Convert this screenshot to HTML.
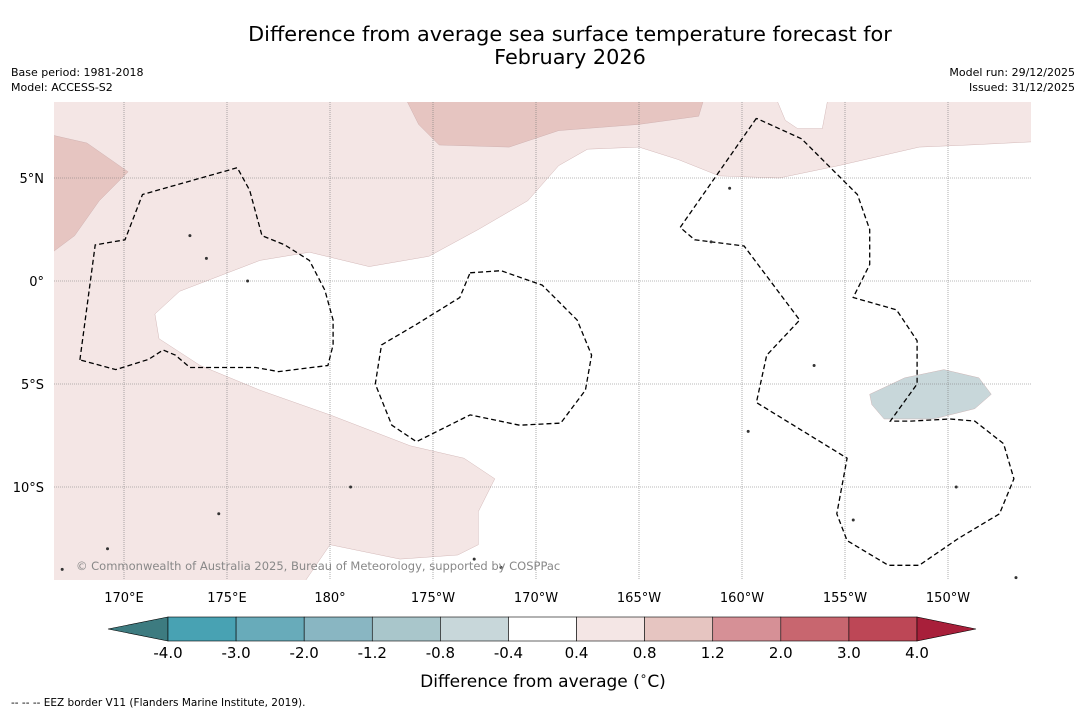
<!DOCTYPE html>
<html><head><meta charset="utf-8"><style>
body{margin:0;background:#fff;font-family:"DejaVu Sans","Liberation Sans",sans-serif;}
#wrap{position:relative;width:1085px;height:713px;overflow:hidden;}
</style></head><body>
<div id="wrap">
<svg id="svg" width="1085" height="713" xmlns="http://www.w3.org/2000/svg" font-family="DejaVu Sans, Liberation Sans, sans-serif">
<text x="570" y="41" font-size="20.8" text-anchor="middle" fill="#000">Difference from average sea surface temperature forecast for</text>
<text x="570" y="64" font-size="20.8" text-anchor="middle" fill="#000">February 2026</text>
<text x="11" y="76" font-size="11">Base period: 1981-2018</text>
<text x="11" y="91" font-size="11">Model: ACCESS-S2</text>
<text x="1075" y="76" font-size="11" text-anchor="end">Model run: 29/12/2025</text>
<text x="1075" y="91" font-size="11" text-anchor="end">Issued: 31/12/2025</text>
<defs><clipPath id="mc"><rect x="54" y="102" width="977" height="478"/></clipPath></defs>
<g id="map" clip-path="url(#mc)"></g>
<g id="axes"></g>
<g id="cbar"></g>
<text x="543" y="687" font-size="17" text-anchor="middle">Difference from average (<tspan font-size="12" dy="-7">∘</tspan><tspan dy="7">C)</tspan></text>
<text x="11" y="706" font-size="10.5">--  --  -- EEZ border V11 (Flanders Marine Institute, 2019).</text>
</svg>
</div>
<script>
const lonTicks=[170,175,180,185,190,195,200,205,210];
const lonLabels=["170°E","175°E","180°","175°W","170°W","165°W","160°W","155°W","150°W"];
const latTicks=[5,0,-5,-10];
const latLabels=["5°N","0°","5°S","10°S"];
const cbBounds=["-4.0","-3.0","-2.0","-1.2","-0.8","-0.4","0.4","0.8","1.2","2.0","3.0","4.0"];
const cbColors=["#48a2b3","#68abba","#89b6c2","#a9c6cb","#c8d7da","#ffffff","#f4e6e5","#e6c5c1","#d69096","#c8666f","#bd4756"];
const cbLow="#3d7b80", cbHigh="#a81f3a";
const pinkRegion=[[166,9],[215,9],[215,6.8],[211,6.6],[208.6,6.5],[204.7,5.6],[201.8,5.0],[198.9,5.1],[196.9,5.9],[195,6.5],[192.5,6.4],[191.1,5.6],[189.6,3.9],[187.2,2.5],[184.8,1.2],[181.9,0.7],[179,1.4],[176.6,1],[172.7,-0.5],[171.5,-1.6],[171.7,-2.8],[173.7,-4.1],[176.6,-5.3],[180,-6.5],[183.9,-8],[186.5,-8.6],[188,-9.6],[187.2,-11.2],[187.2,-12.8],[186.2,-13.3],[183.4,-13.5],[180,-12.8],[178.5,-15],[166,-15]];
const roseTop=[[183.6,9],[198.2,9],[197.9,8],[195,7.6],[191.1,7.3],[188.7,6.5],[185.3,6.6],[184.3,7.6]];
const roseLeft=[[166,7.2],[168.2,6.7],[170.2,5.3],[168.8,3.9],[167.6,2.2],[166,1]];
const whiteTop=[[201.6,9],[204.2,9],[203.9,7.4],[202.7,7.4],[202.1,7.8]];
const blueBlob=[[206.2,-5.5],[207.9,-4.7],[209.8,-4.3],[211.5,-4.7],[212.1,-5.5],[211.3,-6.2],[209.3,-6.7],[206.9,-6.7],[206.3,-6]];
const eezA=[[167.86,-3.83],[168.6,1.75],[170.05,2],[170.9,4.2],[175.5,5.5],[176.1,4.4],[176.7,2.2],[177.8,1.75],[179,1],[179.75,-0.45],[180.15,-1.9],[180.15,-3.1],[179.9,-4.1],[177.5,-4.4],[176.4,-4.2],[173.2,-4.2],[172.5,-3.6],[171.9,-3.35],[171.2,-3.8],[169.6,-4.3],[167.86,-3.83]];
const eezB=[[186.8,0.4],[188.3,0.5],[190.3,-0.2],[192,-1.9],[192.7,-3.6],[192.4,-5.3],[191.2,-6.9],[189.2,-7],[186.8,-6.5],[184.2,-7.8],[183,-7],[182.2,-5],[182.5,-3.1],[184.2,-2.1],[186.3,-0.8],[186.8,0.4]];
const eezC=[[200.7,7.9],[197,2.6],[197.7,2],[200.1,1.7],[202.8,-1.9],[201.2,-3.6],[200.7,-5.9],[205.1,-8.6],[204.6,-11.3],[205.1,-12.6],[207.1,-13.8],[208.6,-13.8],[210.5,-12.5],[212.5,-11.3],[213.2,-9.6],[212.7,-7.9],[211.3,-6.8],[210.1,-6.7],[208.2,-6.8],[207.2,-6.8],[208.5,-5],[208.5,-2.9],[207.5,-1.4],[205.4,-0.8],[206.2,0.8],[206.2,2.5],[205.6,4.2],[204.4,5.4],[202.9,6.9],[200.7,7.9]];
const islands=[[173.2,2.2],[174,1.1],[176,0],[181,-10],[187,-13.5],[188.3,-13.9],[166.3,-11.7],[167,-14],[169.2,-13],[203.5,-4.1],[213.3,-14.4],[199.4,4.5],[198.5,1.9],[210.4,-10],[205.4,-11.6],[200.3,-7.3],[174.6,-11.3]];
const X=l=>124+(l-170)*20.6, Y=a=>281-a*20.6;
const NS="http://www.w3.org/2000/svg";
function mk(t,a,p){const e=document.createElementNS(NS,t);for(const k in a)e.setAttribute(k,a[k]);p.appendChild(e);return e;}
const pts=arr=>arr.map(p=>X(p[0]).toFixed(1)+","+Y(p[1]).toFixed(1)).join(" ");
const map=document.getElementById("map");
let e;
e=mk("rect",{x:54,y:102,width:977,height:478,fill:"#fff"},map);


const regions=[[pinkRegion,"#f4e6e5","anomaly-0.4-0.8"],[roseTop,"#e6c5c1","anomaly-0.8-1.2-north"],[roseLeft,"#e6c5c1","anomaly-0.8-1.2-west"],[whiteTop,"#fff","anomaly-neutral-north"],[blueBlob,"#c8d7da","anomaly-neg-0.8-0.4"]];
regions.forEach(r=>{e=mk("polygon",{points:pts(r[0]),fill:r[1],stroke:"#c9a9a9","stroke-width":0.4},map);

});
lonTicks.forEach((l,i)=>{e=mk("line",{x1:X(l),x2:X(l),y1:102,y2:580,stroke:"#777","stroke-width":0.6,"stroke-dasharray":"1,1"},map);

});
latTicks.forEach(a=>{e=mk("line",{x1:54,x2:1031,y1:Y(a),y2:Y(a),stroke:"#777","stroke-width":0.6,"stroke-dasharray":"1,1"},map);

});
[eezA,eezB,eezC].forEach(z=>{e=mk("polyline",{points:pts(z),fill:"none",stroke:"#000","stroke-width":1.3,"stroke-dasharray":"5,3"},map);

});
islands.forEach(p=>{e=mk("circle",{cx:X(p[0]),cy:Y(p[1]),r:1.5,fill:"#333"},map);

});
e=mk("text",{x:76,y:570,"font-size":11.5,fill:"#888"},map);e.textContent="© Commonwealth of Australia 2025, Bureau of Meteorology, supported by COSPPac";


const ax=document.getElementById("axes");
lonTicks.forEach((l,i)=>{e=mk("text",{x:X(l),y:602,"font-size":13,"text-anchor":"middle"},ax);e.textContent=lonLabels[i];

});
latTicks.forEach((a,i)=>{e=mk("text",{x:44,y:Y(a)+5,"font-size":13,"text-anchor":"end"},ax);e.textContent=latLabels[i];

});
const cb=document.getElementById("cbar");
const c0=168,c1=917,w=(c1-c0)/cbColors.length,ct=617,cbH=24;
e=mk("polygon",{points:`${c0},${ct} ${c0},${ct+cbH} 108,${ct+cbH/2}`,fill:cbLow,stroke:"#000","stroke-width":0.6},cb);


cbColors.forEach((c,i)=>{e=mk("rect",{x:c0+i*w,y:ct,width:w,height:cbH,fill:c,stroke:"#000","stroke-width":0.6},cb);

});
e=mk("polygon",{points:`${c1},${ct} ${c1},${ct+cbH} 976,${ct+cbH/2}`,fill:cbHigh,stroke:"#000","stroke-width":0.6},cb);


cbBounds.forEach((b,i)=>{e=mk("text",{x:c0+i*w,y:658,"font-size":15,"text-anchor":"middle"},cb);e.textContent=b;

});
</script>
</body></html>
